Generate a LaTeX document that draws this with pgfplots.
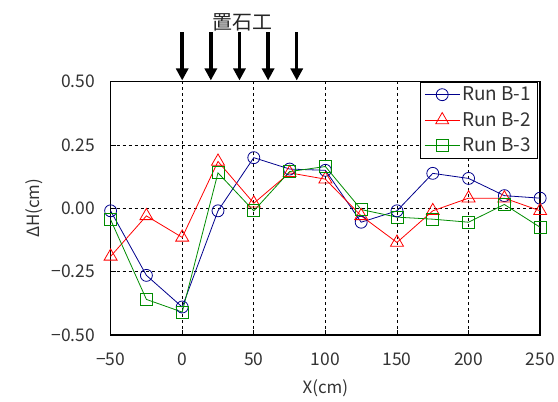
\documentclass[border=0pt]{standalone}
\usepackage{fontspec}
\setmainfont{Noto Sans CJK JP}
\usepackage{pgfplots}
\pgfplotsset{compat=1.18}
\usetikzlibrary{arrows.meta}
\definecolor{bone}{RGB}{0,0,140}
\definecolor{btwo}{RGB}{255,0,0}
\definecolor{bthree}{RGB}{0,140,0}
\begin{document}
\begin{tikzpicture}[x=1pt,y=1pt]
\begin{axis}[
  scale only axis, width=431pt, height=254pt,
  xmin=-50, xmax=250, ymin=-0.5, ymax=0.5,
  xtick={-50,0,...,250}, ytick={-0.5,-0.25,0,0.25,0.5},
  xticklabels={−50,0,50,100,150,200,250},
  yticklabels={−0.50,−0.25,0.00,0.25,0.50},
  grid=major, major grid style={black, dashed, line width=0.6pt},
  axis line style={black, line width=1.5pt},
  tick style={black, line width=0.6pt}, major tick length=5pt,
  tick align=inside,
  xtick pos=bottom, ytick pos=left,
  ticklabel style={font=\fontsize{17.5}{19}\selectfont, text=black!80},
  xticklabel style={yshift=-14pt},
  yticklabel style={xshift=-12pt},
  xlabel={X(cm)}, ylabel={ΔH(cm)},
  label style={font=\fontsize{17}{19}\selectfont, text=black!80},
  xlabel style={yshift=-8pt},
  ylabel style={yshift=2pt},
  clip=false,
  legend style={at={(rel axis cs:0.993,1.0)}, anchor=north east, draw=black, line width=0.6pt,
    font=\fontsize{19}{21}\selectfont, text=black!80, inner xsep=4pt, inner ysep=3pt, row sep=6pt,
    nodes={inner sep=2pt}},
  legend cell align=left,
  legend image code/.code={\draw[#1] (0pt,0pt) -- (35pt,0pt); \draw[#1, mark repeat=2, mark phase=2] plot coordinates {(0pt,0pt) (17.5pt,0pt) (35pt,0pt)};},
]
\addplot[bone, line width=0.8pt, mark=o, mark size=6pt, mark options={fill=white, line width=0.8pt}] coordinates {
(-50,-0.01) (-25,-0.265) (0,-0.39) (25,-0.01) (50,0.20) (75,0.155) (100,0.15) (125,-0.055) (150,-0.01) (175,0.138) (200,0.118) (225,0.05) (250,0.04)};
\addlegendentry{Run B-1}
\addplot[btwo, line width=0.8pt, mark=triangle, mark size=7.5pt, mark options={fill=white, line width=0.8pt}] coordinates {
(-50,-0.19) (-25,-0.03) (0,-0.115) (25,0.185) (50,0.02) (75,0.14) (100,0.115) (125,-0.03) (150,-0.135) (175,-0.01) (200,0.04) (225,0.04) (250,-0.01)};
\addlegendentry{Run B-2}
\addplot[bthree, line width=0.8pt, mark=square, mark size=6pt, mark options={fill=white, line width=0.8pt}] coordinates {
(-50,-0.045) (-25,-0.36) (0,-0.41) (25,0.14) (50,-0.01) (75,0.145) (100,0.165) (125,-0.005) (150,-0.035) (175,-0.043) (200,-0.055) (225,0.015) (250,-0.075)};
\addlegendentry{Run B-3}
\foreach \xx in {0,20,40,60,80} {
  \edef\tmp{\noexpand\draw[line width=3.5pt, -{Triangle[length=12pt,width=12pt]}] (axis cs:\xx,0.695) -- (axis cs:\xx,0.505);}
  \tmp
}
\node[font=\fontsize{20}{22}\selectfont, text=black!85] at (axis cs:42,0.735) {置石工};
\path (rel axis cs:-0.2575,-0.2638) rectangle (rel axis cs:1.0371,1.3228);
\end{axis}
\end{tikzpicture}
\end{document}
